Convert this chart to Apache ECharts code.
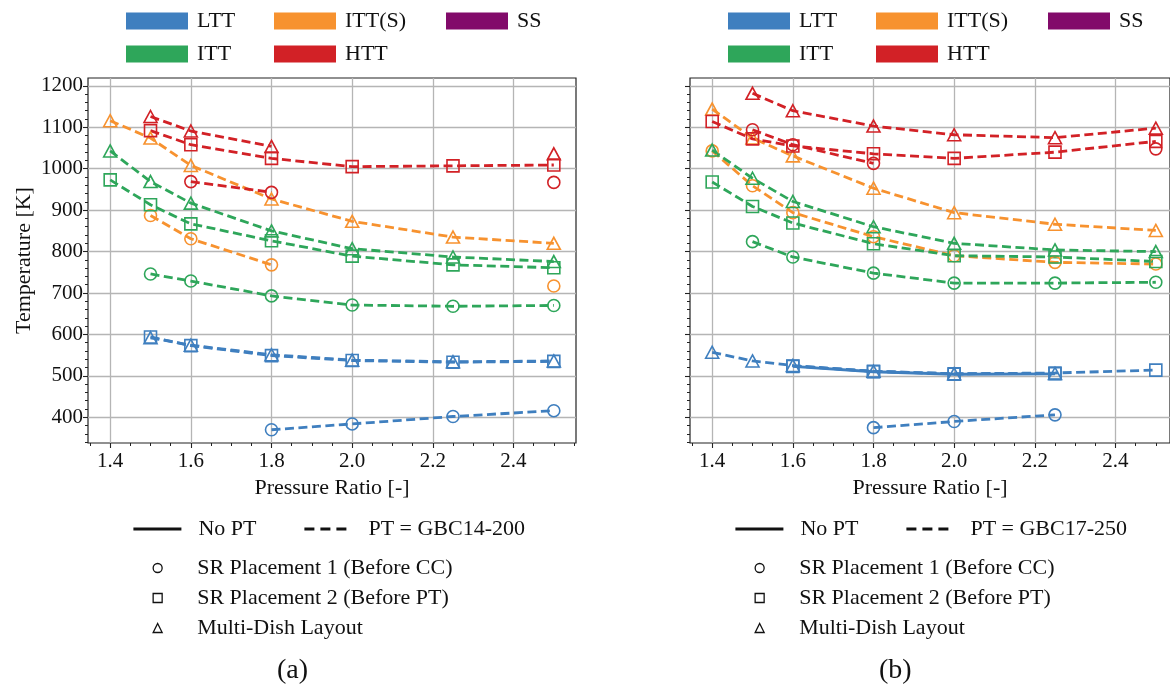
<!DOCTYPE html>
<html>
<head>
<meta charset="utf-8">
<script src="https://cdn.jsdelivr.net/npm/echarts@6/dist/echarts.min.js"></script>
<style>html,body{margin:0;padding:0;background:#fff}#c{width:1170px;height:691px}</style>
</head>
<body>
<div id="c"></div>
<script>
// ---------- data ----------
var pressureRatio = [1.4, 1.5, 1.6, 1.8, 2.0, 2.25, 2.5];
var xTicks = [1.4, 1.6, 1.8, 2.0, 2.2, 2.4];
var yTicks = [400, 500, 600, 700, 800, 900, 1000, 1100, 1200];

// (a) PT = GBC14-200
var a_LTT_circle  = [null, null, null, 370, 384, 402, 416];
var a_LTT_square  = [null, 594, 573, 549, 537, 533, 535];
var a_LTT_tri     = [null, 592, 574, 551, 538, 534, 536];
var a_ITTS_circle = [null, 887, 831, 768, null, null, 717];
var a_ITTS_tri    = [1116, 1074, 1008, 927, 873, 835, 820];
var a_ITT_circle  = [null, 746, 729, 693, 671, 668, 670];
var a_ITT_square  = [973, 913, 867, 826, 789, 768, 761];
var a_ITT_tri     = [1043, 969, 917, 850, 807, 787, 776];
var a_HTT_circle  = [null, null, 969, 943, null, null, 967];
var a_HTT_square  = [null, 1092, 1058, 1025, 1005, 1007, 1009];
var a_HTT_tri     = [null, 1126, 1091, 1054, null, null, 1036];

// (b) PT = GBC17-250
var b_LTT_circle  = [null, null, null, 375, 390, 406, null];
var b_LTT_square  = [null, null, 524, 511, 505, 507, 514];
var b_LTT_tri     = [557, 536, 525, 511, 505, 506, null];
var b_LTT_noPT    = [null, null, 523, 510, 504, 505, null];
var b_ITTS_circle = [1043, 959, 894, 836, 790, 774, 770];
var b_ITTS_tri    = [1144, 1074, 1031, 953, 894, 866, 851];
var b_ITT_circle  = [null, 824, 787, 748, 724, 724, 726];
var b_ITT_square  = [968, 909, 869, 819, 790, 787, 776];
var b_ITT_tri     = [1045, 977, 921, 860, 820, 804, 800];
var b_HTT_circle  = [null, 1094, 1058, 1013, null, null, 1048];
var b_HTT_square  = [1114, 1072, 1055, 1036, 1025, 1040, 1066];
var b_HTT_tri     = [null, 1182, 1140, 1103, 1082, 1075, 1098];

// ---------- styling ----------
var C = {LTT:'#3f7fbf', ITTS:'#f7922f', SS:'#820a6a', ITT:'#2ea65a', HTT:'#d22126'};
var FONT = 'Liberation Serif';
var xMinor = [], yMinor = [];
for (var i = 0; i <= 24; i++) xMinor.push(+(1.35 + i * 0.05).toFixed(2));
for (var j = 0; j <= 43; j++) yMinor.push(340 + j * 20);

var XMIN = 1.345, XMAX = 2.555, YMIN = 338, YMAX = 1219;
var PX_PER_UNIT = 488 / (XMAX - XMIN);
var RIGHT_W = 480;                               // panel (b) is cut by the page edge
var XMAX_B = XMIN + RIGHT_W / PX_PER_UNIT;
var grids = [
  {left: 88, top: 78, width: 488, height: 365, show: true, borderColor: '#222', borderWidth: 1.2},
  {left: 690, top: 78, width: RIGHT_W, height: 365, show: true, borderColor: '#222', borderWidth: 1.2}
];

function mainX(g, xmax, name) {
  return {type:'value', gridIndex:g, min:XMIN, max:xmax, position:'bottom',
    axisLine:{show:false},
    axisTick:{show:true, customValues:xTicks, length:5, lineStyle:{color:'#222', width:1.1}},
    axisLabel:{customValues:xTicks, formatter:function(v){return v.toFixed(1);}, fontSize:21, fontFamily:FONT, color:'#111', margin:8},
    splitLine:{show:true, lineStyle:{color:'#b5b5b5', width:1.3}},
    name:name, nameLocation:'middle', nameGap:34, nameTextStyle:{fontSize:22, fontFamily:FONT, color:'#111'}};
}
function minorX(g, xmax) {
  return {type:'value', gridIndex:g, min:XMIN, max:xmax, position:'bottom', offset:0,
    axisLine:{show:false}, axisLabel:{show:false}, splitLine:{show:false},
    axisTick:{show:true, customValues:xMinor.filter(function(v){return v <= xmax;}), length:3, lineStyle:{color:'#222', width:1}}};
}
function mainY(g, showLabels) {
  return {type:'value', gridIndex:g, min:YMIN, max:YMAX, position:'left',
    axisLine:{show:false},
    axisTick:{show:true, customValues:yTicks, length:5, lineStyle:{color:'#222', width:1.1}},
    axisLabel:{show:showLabels, customValues:yTicks, formatter:function(v){return String(Math.round(v));},
      fontSize:21, fontFamily:FONT, color:'#111', margin:5},
    splitLine:{show:true, lineStyle:{color:'#b5b5b5', width:1.3}},
    name: showLabels ? 'Temperature [K]' : '', nameLocation:'middle', nameGap:53,
    nameTextStyle:{fontSize:22, fontFamily:FONT, color:'#111'}};
}
function minorY(g) {
  return {type:'value', gridIndex:g, min:YMIN, max:YMAX, position:'left', offset:0,
    axisLine:{show:false}, axisLabel:{show:false}, splitLine:{show:false},
    axisTick:{show:true, customValues:yMinor, length:3, lineStyle:{color:'#222', width:1}}};
}

var SYM = {circle:['circle', 12], square:['rect', 12], tri:['triangle', [13, 12]]};
var series = [];
function addSeries(axisIdx, name, vals, color, sym, solid) {
  var data = pressureRatio.map(function(x, k){ return [x, vals[k] === null ? null : vals[k]]; });
  series.push({
    type:'line', name:name, xAxisIndex:axisIdx, yAxisIndex:axisIdx, data:data,
    connectNulls:false, symbol:SYM[sym][0], symbolSize:SYM[sym][1], showAllSymbol:true,
    lineStyle:{color:color, width:2.8, type: solid ? 'solid' : [9, 4.5]},
    itemStyle:{color:'rgba(255,255,255,0)', borderColor:color, borderWidth:1.6},
    emphasis:{disabled:true}, silent:true, animation:false, clip:false
  });
}
// (a)
addSeries(0, 'aLTTc', a_LTT_circle, C.LTT, 'circle');
addSeries(0, 'aLTTs', a_LTT_square, C.LTT, 'square');
addSeries(0, 'aLTTt', a_LTT_tri, C.LTT, 'tri');
addSeries(0, 'aITTSc', a_ITTS_circle, C.ITTS, 'circle');
addSeries(0, 'aITTSt', a_ITTS_tri, C.ITTS, 'tri');
addSeries(0, 'aITTc', a_ITT_circle, C.ITT, 'circle');
addSeries(0, 'aITTs', a_ITT_square, C.ITT, 'square');
addSeries(0, 'aITTt', a_ITT_tri, C.ITT, 'tri');
addSeries(0, 'aHTTc', a_HTT_circle, C.HTT, 'circle');
addSeries(0, 'aHTTs', a_HTT_square, C.HTT, 'square');
addSeries(0, 'aHTTt', a_HTT_tri, C.HTT, 'tri');
// (b)
addSeries(2, 'bLTTc', b_LTT_circle, C.LTT, 'circle');
addSeries(2, 'bLTTn', b_LTT_noPT, C.LTT, 'square', true);
addSeries(2, 'bLTTs', b_LTT_square, C.LTT, 'square');
addSeries(2, 'bLTTt', b_LTT_tri, C.LTT, 'tri');
addSeries(2, 'bITTSc', b_ITTS_circle, C.ITTS, 'circle');
addSeries(2, 'bITTSt', b_ITTS_tri, C.ITTS, 'tri');
addSeries(2, 'bITTc', b_ITT_circle, C.ITT, 'circle');
addSeries(2, 'bITTs', b_ITT_square, C.ITT, 'square');
addSeries(2, 'bITTt', b_ITT_tri, C.ITT, 'tri');
addSeries(2, 'bHTTc', b_HTT_circle, C.HTT, 'circle');
addSeries(2, 'bHTTs', b_HTT_square, C.HTT, 'square');
addSeries(2, 'bHTTt', b_HTT_tri, C.HTT, 'tri');

// legend-only series
function dummy(name, opts) {
  var s = {type:'line', name:name, xAxisIndex:0, yAxisIndex:0, data:[], silent:true, animation:false};
  for (var k in opts) s[k] = opts[k];
  series.push(s);
}
['LTT','ITT(S)','SS','ITT','HTT'].forEach(function(n){
  var col = {'LTT':C.LTT,'ITT(S)':C.ITTS,'SS':C.SS,'ITT':C.ITT,'HTT':C.HTT}[n];
  dummy(n, {itemStyle:{color:col}, lineStyle:{color:col}});
});
dummy('No PT', {symbol:'none', itemStyle:{color:'#111'}, lineStyle:{color:'#111', width:2.6, type:'solid'}});
dummy('PT = GBC14-200', {symbol:'none', itemStyle:{color:'#111'}, lineStyle:{color:'#111', width:2.6, type:[10, 6]}});
dummy('PT = GBC17-250', {symbol:'none', itemStyle:{color:'#111'}, lineStyle:{color:'#111', width:2.6, type:[10, 6]}});
dummy('SR Placement 1 (Before CC)', {symbol:'circle', itemStyle:{color:'rgba(0,0,0,0)', borderColor:'#111', borderWidth:1.3}});
dummy('SR Placement 2 (Before PT)', {symbol:'rect', itemStyle:{color:'rgba(0,0,0,0)', borderColor:'#111', borderWidth:1.3}});
dummy('Multi-Dish Layout', {symbol:'triangle', itemStyle:{color:'rgba(0,0,0,0)', borderColor:'#111', borderWidth:1.3}});

var legends = [];
var LTXT = {fontSize:22, fontFamily:FONT, color:'#111'};
function patchLegend(name, left, top) {
  legends.push({data:[{name:name, icon:'rect'}], left:left, top:top, padding:0, itemWidth:62, itemHeight:17,
    selectedMode:false, textStyle:Object.assign({padding:[0,0,0,4]}, LTXT)});
}
function lineLegend(name, left, top, w, pad, dash) {
  legends.push({data:[name], left:left, top:top, padding:0, itemWidth:w, itemHeight:14,
    selectedMode:false, itemStyle:{opacity:0, color:'rgba(0,0,0,0)', borderWidth:0},
    lineStyle:{color:'#111', width:2.8, type:dash},
    textStyle:Object.assign({padding:[0,0,0,pad]}, LTXT)});
}
function markerLegend(name, icon, left, top) {
  legends.push({data:[{name:name, icon:icon}], left:left, top:top, padding:0, itemWidth:9, itemHeight:9,
    selectedMode:false, itemStyle:{color:'rgba(0,0,0,0)', borderColor:'#111', borderWidth:1.3},
    textStyle:Object.assign({padding:[0,0,0,30]}, LTXT)});
}
[[0, 'PT = GBC14-200'], [602, 'PT = GBC17-250']].forEach(function(p){
  var dx = p[0];
  patchLegend('LTT', 126 + dx, 10);
  patchLegend('ITT(S)', 274 + dx, 10);
  patchLegend('SS', 446 + dx, 10);
  patchLegend('ITT', 126 + dx, 43);
  patchLegend('HTT', 274 + dx, 43);
  lineLegend('No PT', 132 + dx, 518, 48, 12, 'solid');
  lineLegend(p[1], 303 + dx, 518, 42, 17, [10, 6]);
  markerLegend('SR Placement 1 (Before CC)', 'circle', 152.5 + dx, 557);
  markerLegend('SR Placement 2 (Before PT)', 'rect', 152.5 + dx, 587);
  markerLegend('Multi-Dish Layout', 'triangle', 152.5 + dx, 617);
});

var option = {
  backgroundColor:'#fff',
  animation:false,
  title:[
    {text:'(a)', left:277, top:657, padding:0, textStyle:{fontSize:28, fontFamily:FONT, fontWeight:'normal', color:'#111'}},
    {text:'(b)', left:879, top:657, padding:0, textStyle:{fontSize:28, fontFamily:FONT, fontWeight:'normal', color:'#111'}}
  ],
  grid:grids,
  xAxis:[mainX(0, XMAX, 'Pressure Ratio [-]'), minorX(0, XMAX), mainX(1, XMAX_B, 'Pressure Ratio [-]'), minorX(1, XMAX_B)],
  yAxis:[mainY(0, true), minorY(0), mainY(1, false), minorY(1)],
  legend:legends,
  series:series
};
var chart = echarts.init(document.getElementById('c'), null, {renderer:'canvas'});
chart.setOption(option);
</script>
</body>
</html>
